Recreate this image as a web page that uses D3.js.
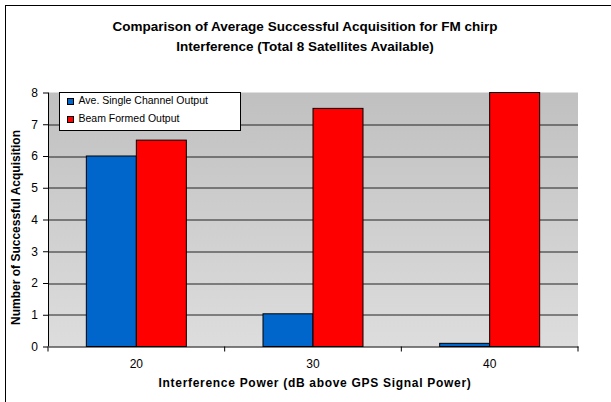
<!DOCTYPE html>
<html lang="en">
<head>
<meta charset="UTF-8">
<title>FM chirp interference</title>
<script src="https://cdn.jsdelivr.net/npm/d3@7/dist/d3.min.js"></script>
<style>
  body { margin: 0; background: #fff; }
  text { font-family: "Liberation Sans", Arial, sans-serif; }
</style>
</head>
<body>
<script>
// data
var categories = ["20", "30", "40"];
var seriesNames = ["Ave. Single Channel Output", "Beam Formed Output"];
var singleChannel = [6, 1.03, 0.1];
var beamFormed = [6.5, 7.5, 8];
var yTicks = [0, 1, 2, 3, 4, 5, 6, 7, 8];
var colors = ["#0066cc", "#ff0000"];

var width = 611, height = 402;
var margin = {top: 92.5, right: 33, bottom: 55.5, left: 48};
var innerW = width - margin.left - margin.right;
var innerH = height - margin.top - margin.bottom;

var svg = d3.select("body").append("svg")
    .attr("width", width).attr("height", height);

// outer frame (only left and top visible)
svg.append("rect")
    .attr("x", 5.5).attr("y", 5.5)
    .attr("width", 700).attr("height", 500)
    .attr("fill", "none").attr("stroke", "#000").attr("stroke-width", 1);

var grad = svg.append("defs").append("linearGradient")
    .attr("id", "bg").attr("x1", 0).attr("y1", 0).attr("x2", 0).attr("y2", 1);
grad.append("stop").attr("offset", "0%").attr("stop-color", "#c0c0c0");
grad.append("stop").attr("offset", "100%").attr("stop-color", "#dddddd");

var g = svg.append("g").attr("transform", "translate(" + margin.left + "," + margin.top + ")");

var x0 = d3.scaleBand().domain(categories).range([0, innerW]).padding(0);
var x1 = d3.scaleBand().domain([0, 1]).range([0, 100]);
var y = d3.scaleLinear().domain([0, 8]).range([innerH, 0]);

g.append("rect").attr("width", innerW).attr("height", innerH).attr("fill", "url(#bg)");

// gridlines
g.selectAll(".grid").data(yTicks.filter(function (d) { return d > 0 && d < 8; }))
  .enter().append("line")
    .attr("x1", 0).attr("x2", innerW)
    .attr("y1", function (d) { return Math.round(y(d)) + 0.5; })
    .attr("y2", function (d) { return Math.round(y(d)) + 0.5; })
    .attr("stroke", "#222").attr("stroke-width", 1);

// bars
var groups = g.selectAll(".grp").data(categories).enter().append("g")
    .attr("transform", function (d) {
        return "translate(" + (x0(d) + x0.bandwidth() / 2 - 50) + ",0)";
    });
groups.selectAll("rect").data(function (d, i) { return [singleChannel[i], beamFormed[i]]; })
  .enter().append("rect")
    .attr("x", function (d, j) { return x1(j); })
    .attr("width", x1.bandwidth())
    .attr("y", function (d) { return y(d); })
    .attr("height", function (d) { return innerH - y(d); })
    .attr("fill", function (d, j) { return colors[j]; })
    .attr("stroke", "#000").attr("stroke-width", 1);

// axes
var yAxis = g.append("g").call(d3.axisLeft(y).tickValues(yTicks).tickSize(5).tickPadding(5).tickFormat(d3.format("d")));
var xAxis = g.append("g").attr("transform", "translate(0," + innerH + ")")
    .call(d3.axisBottom(x0).tickSize(0).tickPadding(13));
[yAxis, xAxis].forEach(function (a) {
    a.select(".domain").attr("stroke", "#000");
    a.selectAll("text").attr("font-size", 12).attr("fill", "#000")
        .style("font-family", "'Liberation Sans', Arial, sans-serif");
    a.selectAll(".tick line").attr("stroke", "#000");
});
yAxis.select(".domain").attr("d", "M0.5," + (innerH) + "V0");
// category boundary ticks on the x axis
xAxis.selectAll(".sep").data(d3.range(categories.length + 1)).enter().append("line")
    .attr("x1", function (i) { return i * x0.bandwidth(); })
    .attr("x2", function (i) { return i * x0.bandwidth(); })
    .attr("y1", 0).attr("y2", 5).attr("stroke", "#000");

// titles
var title = svg.append("text").attr("x", 305).attr("text-anchor", "middle")
    .attr("font-size", 13.5).attr("font-weight", "bold");
title.append("tspan").attr("x", 305).attr("y", 30.5).text("Comparison of Average Successful Acquisition for FM chirp");
title.append("tspan").attr("x", 305).attr("y", 50.5).text("Interference (Total 8 Satellites Available)");

svg.append("text").attr("x", 315).attr("y", 386.5).attr("text-anchor", "middle")
    .attr("font-size", 12).attr("font-weight", "bold").attr("letter-spacing", 0.7)
    .text("Interference Power (dB above GPS Signal Power)");

svg.append("text")
    .attr("transform", "translate(20," + (margin.top + 135) + ") rotate(-90)")
    .attr("text-anchor", "middle")
    .attr("font-size", 12).attr("font-weight", "bold")
    .text("Number of Successful Acquisition");

// legend
var lg = svg.append("g").attr("transform", "translate(59.5,92.5)");
lg.append("rect").attr("width", 181).attr("height", 38)
    .attr("fill", "#fff").attr("stroke", "#000");
seriesNames.forEach(function (name, i) {
    lg.append("rect").attr("x", 8).attr("y", 6 + i * 18)
        .attr("width", 6).attr("height", 6)
        .attr("fill", colors[i]).attr("stroke", "#000");
    lg.append("text").attr("x", 19).attr("y", 11 + i * 18)
        .attr("font-size", 10.5).text(name);
});
</script>
</body>
</html>
